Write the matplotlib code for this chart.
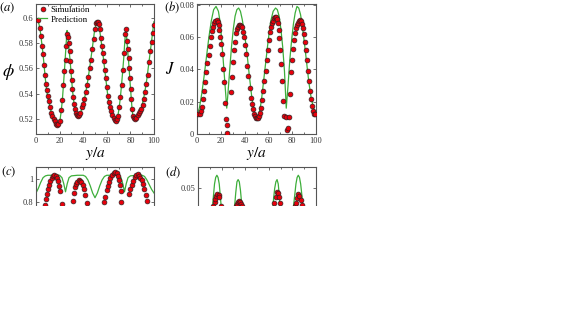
import matplotlib
matplotlib.use('Agg')
import matplotlib.pyplot as plt
from matplotlib.patches import Rectangle
from matplotlib.ticker import MultipleLocator, FuncFormatter

plt.rcParams['font.family'] = ['Liberation Serif', 'DejaVu Serif']
plt.rcParams['mathtext.fontset'] = 'stix'

# panel (a): phi, simulation points
sim_a_x = [2.0, 3.4, 4.0, 5.1, 6.0, 6.5, 7.4, 8.2, 9.1, 9.9, 11.0, 11.9, 12.8, 13.6, 15.0, 16.2,
           17.0, 18.2, 19.0, 20.2, 21.3, 22.2, 23.0, 23.9, 25.0, 25.6, 26.4, 27.3, 27.8, 28.4,
           29.0, 29.5, 30.1, 30.7, 31.5, 32.4, 33.0, 33.5, 34.7, 35.5, 36.4, 37.5, 38.6, 39.8,
           40.9, 42.0, 43.2, 44.3, 45.5, 46.6, 47.7, 48.9, 49.7, 50.6, 51.4, 52.3, 53.1, 54.0,
           54.8, 55.7, 56.5, 57.4, 58.2, 59.1, 59.9, 60.8, 61.6, 62.5, 63.6, 64.8, 65.9, 66.8,
           67.6, 68.5, 69.3, 70.5, 71.6, 72.7, 73.9, 75.0, 75.6, 76.1, 77.0, 77.6, 78.4, 79.0,
           79.5, 80.1, 80.7, 81.3, 81.8, 82.7, 83.8, 84.9, 86.1, 86.9, 88.1, 89.2, 90.3, 91.2,
           92.3, 93.5, 94.6, 95.7, 96.9, 98.0, 98.9, 99.7]
sim_a_y = [0.598, 0.592, 0.586, 0.578, 0.571, 0.563, 0.555, 0.548, 0.543, 0.538, 0.534, 0.529,
           0.525, 0.522, 0.520, 0.518, 0.516, 0.515, 0.516, 0.518, 0.527, 0.535, 0.547, 0.558,
           0.567, 0.578, 0.587, 0.585, 0.580, 0.574, 0.566, 0.558, 0.551, 0.544, 0.537, 0.532,
           0.528, 0.525, 0.523, 0.522, 0.523, 0.525, 0.529, 0.532, 0.536, 0.541, 0.547, 0.553,
           0.560, 0.567, 0.575, 0.583, 0.591, 0.596, 0.597, 0.597, 0.595, 0.591, 0.584, 0.578,
           0.572, 0.566, 0.559, 0.552, 0.545, 0.538, 0.533, 0.529, 0.526, 0.523, 0.521, 0.519,
           0.518, 0.520, 0.522, 0.529, 0.537, 0.547, 0.559, 0.572, 0.587, 0.591, 0.582, 0.575,
           0.568, 0.560, 0.552, 0.544, 0.536, 0.528, 0.522, 0.521, 0.520, 0.521, 0.523, 0.525,
           0.526, 0.528, 0.531, 0.536, 0.541, 0.548, 0.555, 0.565, 0.574, 0.581, 0.588, 0.594]

# panel (a): prediction
pred_a_x = [0, 1, 2, 3, 4, 5, 6, 7, 8, 9, 10, 11, 12, 13, 14, 16, 18, 19.5, 20.5, 21.5, 22.5,
            23.5, 24.5, 25.5, 26.3, 27, 28, 29, 30, 31, 32, 33, 34, 35.5, 37, 38.5, 40, 42, 44,
            46, 48, 49.5, 51, 52, 53, 54, 55, 56, 57, 58, 59, 60, 61, 62, 63, 64.5, 66, 67.5,
            68.5, 69.5, 70.5, 71.5, 72.5, 73.5, 74.5, 75.3, 76, 76.7, 77.5, 78.5, 79.5, 80.5,
            81.3, 82, 83, 84.5, 86, 88, 90, 92, 94, 96, 98, 99, 100]
pred_a_y = [0.600, 0.599, 0.597, 0.593, 0.587, 0.579, 0.571, 0.561, 0.551, 0.543, 0.537, 0.533,
            0.529, 0.525, 0.522, 0.519, 0.517, 0.517, 0.520, 0.527, 0.537, 0.550, 0.564, 0.579,
            0.590, 0.586, 0.575, 0.565, 0.553, 0.542, 0.534, 0.528, 0.524, 0.521, 0.523, 0.527,
            0.532, 0.540, 0.551, 0.564, 0.578, 0.589, 0.596, 0.597, 0.595, 0.590, 0.583, 0.576,
            0.569, 0.561, 0.553, 0.545, 0.537, 0.531, 0.527, 0.524, 0.520, 0.518, 0.519, 0.523,
            0.529, 0.537, 0.547, 0.558, 0.570, 0.582, 0.590, 0.586, 0.576, 0.565, 0.552, 0.539,
            0.529, 0.523, 0.520, 0.520, 0.523, 0.526, 0.531, 0.540, 0.552, 0.567, 0.582, 0.590,
            0.597]

# panel (b): J, simulation points
sim_b_x = [0.8, 2.2, 3.1, 3.9, 4.8, 5.6, 6.4, 7.6, 8.7, 9.8, 10.6, 11.8, 12.6, 13.4, 14.6, 15.4,
           16.5, 17.4, 18.2, 18.8, 19.6, 20.2, 21.0, 21.8, 22.7, 23.5, 24.1, 24.9, 25.5, 28.6,
           29.4, 30.3, 31.1, 31.7, 32.5, 33.3, 34.2, 35.0, 35.9, 36.7, 37.5, 38.4, 39.2, 40.3,
           41.2, 42.3, 43.1, 44.3, 45.1, 45.9, 47.1, 47.9, 48.7, 49.6, 50.4, 51.3, 52.1, 52.9,
           53.8, 54.9, 55.7, 56.6, 57.7, 58.5, 59.4, 60.5, 61.3, 62.2, 63.0, 63.9, 64.7, 65.5,
           66.4, 66.9, 67.8, 68.6, 69.2, 70.0, 70.9, 71.7, 72.5, 73.4, 74.8, 75.4, 76.2, 77.0,
           78.2, 79.0, 79.8, 80.7, 81.5, 82.1, 82.9, 83.8, 84.6, 85.4, 86.3, 87.1, 88.0, 88.8,
           89.6, 90.5, 91.3, 92.2, 93.0, 93.8, 95.0, 95.8, 96.6, 97.5, 98.3, 99.4]
sim_b_y = [0.0121, 0.0125, 0.0142, 0.0167, 0.0215, 0.0268, 0.0324, 0.0382, 0.0439, 0.0491,
           0.0545, 0.0602, 0.0637, 0.0665, 0.0686, 0.0702, 0.0706, 0.0696, 0.0675, 0.0644,
           0.0602, 0.0560, 0.0497, 0.0403, 0.0320, 0.0194, 0.0090, 0.0054, 0.0006, 0.0257,
           0.0351, 0.0445, 0.0518, 0.0571, 0.0623, 0.0648, 0.0665, 0.0673, 0.0677, 0.0669,
           0.0660, 0.0633, 0.0602, 0.0550, 0.0497, 0.0424, 0.0362, 0.0284, 0.0226, 0.0184,
           0.0153, 0.0125, 0.0111, 0.0100, 0.0096, 0.0100, 0.0111, 0.0130, 0.0163, 0.0209,
           0.0268, 0.0330, 0.0393, 0.0456, 0.0518, 0.0581, 0.0629, 0.0665, 0.0686, 0.0702,
           0.0717, 0.0727, 0.0727, 0.0711, 0.0686, 0.0644, 0.0592, 0.0523, 0.0435, 0.0330,
           0.0205, 0.0111, 0.0107, 0.0027, 0.0038, 0.0105, 0.0247, 0.0387, 0.0456, 0.0529,
           0.0581, 0.0623, 0.0654, 0.0673, 0.0690, 0.0702, 0.0706, 0.0698, 0.0681, 0.0654,
           0.0619, 0.0571, 0.0518, 0.0456, 0.0393, 0.0330, 0.0268, 0.0215, 0.0173, 0.0142,
           0.0125, 0.0121]

# panel (b): prediction
pred_b_x = [0, 2, 4, 6, 8, 10, 12, 14, 16, 18, 19.5, 21, 22.5, 24, 25, 26, 27.5, 29, 30.5, 32,
            33.5, 35, 36.5, 38, 40, 42, 44, 46, 48, 50, 52, 54, 56, 58, 60, 62, 64, 66, 67.5,
            69, 70.5, 72, 73.5, 75, 76.5, 78, 79.5, 81, 82.5, 84, 85.5, 87, 88.5, 90, 92, 94,
            96, 98, 100]
pred_b_y = [0.012, 0.016, 0.025, 0.036, 0.048, 0.060, 0.070, 0.077, 0.079, 0.076, 0.069, 0.056,
            0.041, 0.026, 0.016, 0.025, 0.040, 0.054, 0.065, 0.073, 0.077, 0.078, 0.076, 0.071,
            0.062, 0.050, 0.036, 0.023, 0.014, 0.010, 0.012, 0.020, 0.033, 0.046, 0.059, 0.070,
            0.076, 0.078, 0.077, 0.073, 0.065, 0.054, 0.039, 0.016, 0.030, 0.046, 0.058, 0.068,
            0.075, 0.079, 0.078, 0.074, 0.067, 0.058, 0.045, 0.032, 0.022, 0.016, 0.013]

# panel (c): only the top part is visible
sim_c_x = [7.4, 8.2, 9.0, 10.2, 11.0, 12.2, 13.3, 14.4, 15.6, 16.7, 17.6, 18.7, 19.8, 20.7, 21.8,
           31.2, 32.0, 33.1, 34.0, 35.1, 36.3, 37.4, 38.5, 39.7, 40.8, 41.9, 43.0,
           57.8, 58.6, 59.8, 60.6, 61.8, 62.9, 64.3, 65.7, 67.1, 68.3, 69.4, 70.3, 70.8, 71.7, 72.2,
           79.0, 79.9, 81.3, 82.2, 83.6, 85.0, 86.1, 87.3, 88.4, 89.5, 90.7, 91.8, 92.9, 94.0]
sim_c_y = [0.78, 0.83, 0.87, 0.91, 0.95, 0.98, 1.01, 1.028, 1.034, 1.025, 1.006, 0.983, 0.94,
           0.893, 0.79,
           0.81, 0.88, 0.927, 0.958, 0.975, 0.986, 0.983, 0.972, 0.95, 0.913, 0.865, 0.795,
           0.80, 0.85, 0.907, 0.94, 0.977, 1.006, 1.034, 1.048, 1.056, 1.048, 1.025, 0.99, 0.95,
           0.893, 0.80,
           0.873, 0.913, 0.95, 0.983, 1.014, 1.031, 1.037, 1.028, 1.011, 0.99, 0.958, 0.913,
           0.865, 0.81]
pred_c_x = [0, 2, 4, 6, 8, 10, 15, 20, 22, 23.5, 25, 26.5, 28, 30, 35, 40, 42, 44, 46, 48, 50,
            52, 54, 56, 58, 60, 65, 70, 72, 73.5, 75, 76.5, 78, 80, 85, 90, 92, 94, 96, 98, 100]
pred_c_y = [0.88, 0.92, 0.97, 1.01, 1.025, 1.03, 1.03, 1.03, 1.01, 0.96, 0.89, 0.96, 1.01,
            1.025, 1.03, 1.03, 1.02, 0.99, 0.94, 0.88, 0.84, 0.88, 0.94, 0.99, 1.02, 1.03, 1.03,
            1.03, 1.01, 0.96, 0.89, 0.96, 1.01, 1.025, 1.03, 1.03, 1.02, 0.99, 0.95, 0.91, 0.88]

# panel (d): only the top part is visible
sim_d_x = [12.9, 14.0, 14.8, 15.4, 16.4, 17.6, 18.2, 19.8,
           32.2, 33.0, 34.0, 34.9, 35.9, 36.7, 37.3,
           64.4, 65.8, 66.7, 67.8, 68.6, 69.5,
           81.8, 82.9, 83.8, 84.9, 86.0, 87.1, 88.3]
sim_d_y = [0.0420, 0.0438, 0.0452, 0.0465, 0.0474, 0.0470, 0.0458, 0.0420,
           0.0420, 0.0430, 0.0437, 0.0440, 0.0436, 0.0428, 0.0420,
           0.0434, 0.0462, 0.0482, 0.0478, 0.0462, 0.0434,
           0.0418, 0.0434, 0.0454, 0.0472, 0.0465, 0.0446, 0.0424]
pred_d_x = [0, 9, 10, 11, 12, 13, 14, 15, 16, 17, 18, 19, 20, 21, 22, 23,
            28, 29, 30, 31, 32, 33, 34, 35, 36, 37, 38, 39, 40,
            61, 62, 63, 64, 65, 66, 67, 68, 69, 70, 71, 72,
            78, 79, 80, 81, 82, 83, 84, 85, 86, 87, 88, 89, 90, 91, 92, 100]
pred_d_y = [0.0, 0.0, 0.020, 0.031, 0.039, 0.046, 0.052, 0.055, 0.056, 0.055, 0.052, 0.046,
            0.039, 0.030, 0.018, 0.0,
            0.0, 0.021, 0.034, 0.0416, 0.048, 0.053, 0.054, 0.053, 0.049, 0.043, 0.035, 0.022, 0.0,
            0.0, 0.024, 0.037, 0.045, 0.050, 0.053, 0.054, 0.052, 0.046, 0.037, 0.024, 0.0,
            0.0, 0.026, 0.036, 0.042, 0.047, 0.052, 0.055, 0.056, 0.055, 0.052, 0.047, 0.041,
            0.033, 0.021, 0.0, 0.0]

RED = '#e8000b'
GREEN = '#3dae3a'
W, H = 568, 320


def box(left, top, w, h):
    # pixel box -> figure fraction
    return [left / W, (H - top - h) / H, w / W, h / H]


def style(ax, ylim, ystep):
    ax.set_xlim(0, 100)
    ax.set_ylim(*ylim)
    ax.xaxis.set_major_locator(MultipleLocator(20))
    ax.xaxis.set_minor_locator(MultipleLocator(10))
    ax.yaxis.set_major_locator(MultipleLocator(ystep))
    ax.yaxis.set_major_formatter(FuncFormatter(lambda v, p: '%g' % round(v, 4)))
    ax.tick_params(which='both', direction='in', top=True, right=True, width=0.5,
                   colors='#333333', labelsize=6, pad=2)
    ax.tick_params(which='major', length=2.5)
    ax.tick_params(which='minor', length=1.5)
    for s in ax.spines.values():
        s.set_linewidth(0.8)
        s.set_color('#555555')


def draw(ax, px, py, sx, sy):
    ax.plot(px, py, color=GREEN, lw=0.9, label='Prediction', zorder=2)
    ax.plot(sx, sy, 'o', ms=3.5, mfc=RED, mec='#222222', mew=0.45, label='Simulation', zorder=3)


fig = plt.figure(figsize=(W / 100, H / 100), dpi=100)

ax_a = fig.add_axes(box(36, 4, 118, 130))
draw(ax_a, pred_a_x, pred_a_y, sim_a_x, sim_a_y)
style(ax_a, (0.508, 0.611), 0.02)
h, l = ax_a.get_legend_handles_labels()
ax_a.legend(h[::-1], l[::-1], loc='upper left', frameon=False, fontsize=6.4, handlelength=1.0,
            handletextpad=0.4, labelspacing=0.1, borderaxespad=0.15, borderpad=0.1)
ax_a.text(-0.235, 0.48, r'$\phi$', transform=ax_a.transAxes, fontsize=13, ha='center', va='center')
ax_a.set_xlabel(r'$y/a$', fontsize=11, labelpad=0)

ax_b = fig.add_axes(box(197, 4, 119, 130))
draw(ax_b, pred_b_x, pred_b_y, sim_b_x, sim_b_y)
style(ax_b, (0, 0.0805), 0.02)
ax_b.text(-0.225, 0.49, r'$J$', transform=ax_b.transAxes, fontsize=12, ha='center', va='center')
ax_b.set_xlabel(r'$y/a$', fontsize=11, labelpad=0)

ax_c = fig.add_axes(box(36, 167, 118, 130))
draw(ax_c, pred_c_x, pred_c_y, sim_c_x, sim_c_y)
style(ax_c, (0, 1.1), 0.2)

ax_d = fig.add_axes(box(198, 167, 118, 130))
draw(ax_d, pred_d_x, pred_d_y, sim_d_x, sim_d_y)
style(ax_d, (0, 0.0598), 0.05)

for lab, px, py in [('(a)', 7, 8), ('(b)', 172, 7), ('(c)', 9, 172), ('(d)', 173, 172)]:
    fig.text(px / W, 1 - py / H, '$' + lab + '$', fontsize=9, ha='center', va='center')

# the figure is cut off below the top of panels (c) and (d)
fig.add_artist(Rectangle((0, 0), 1, (H - 206) / H, transform=fig.transFigure,
                         facecolor='white', edgecolor='none', zorder=50))

fig.savefig('out.png', dpi=100)
